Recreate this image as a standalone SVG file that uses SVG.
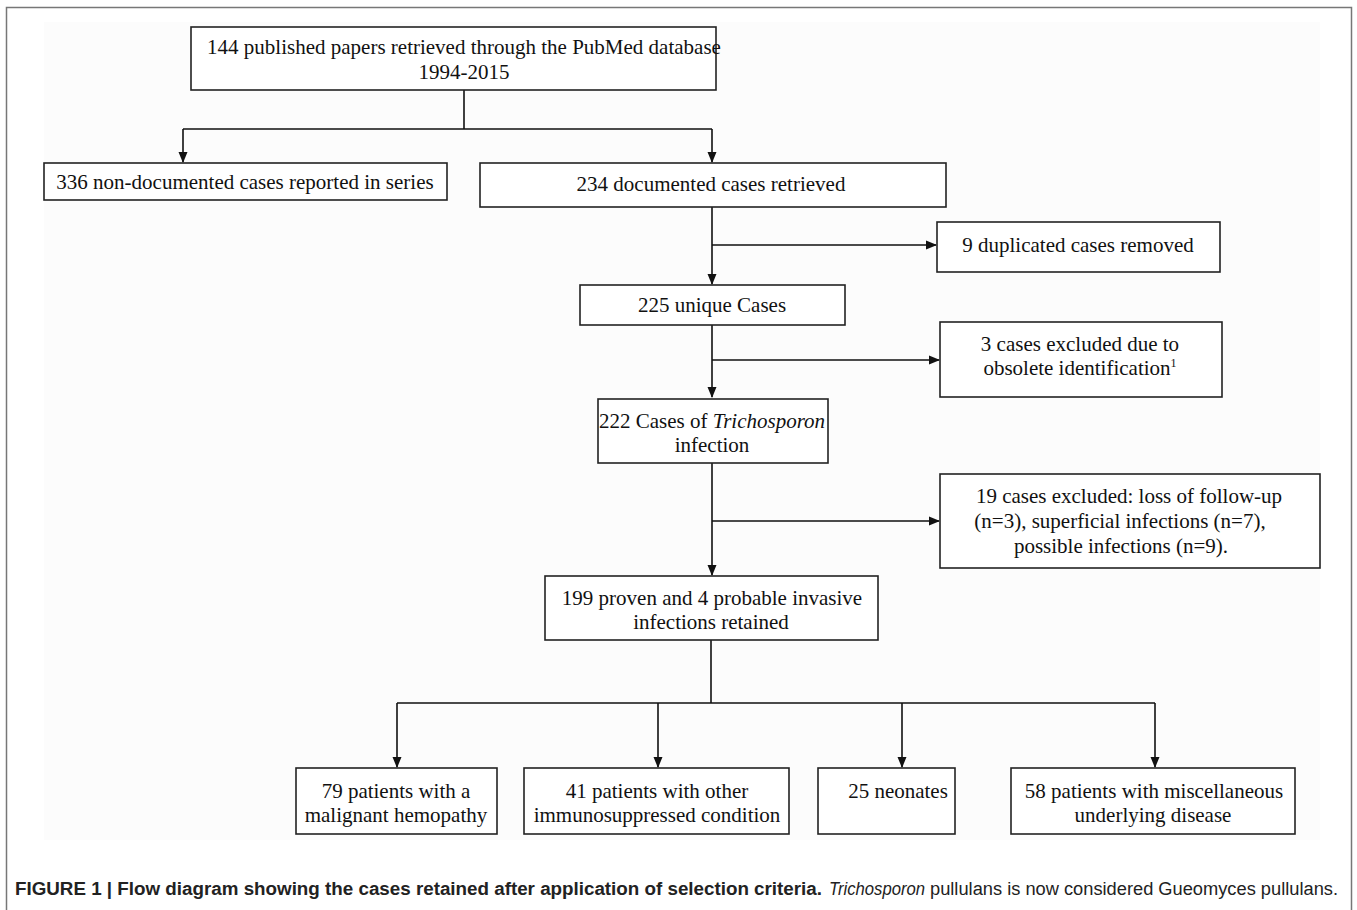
<svg xmlns="http://www.w3.org/2000/svg" width="1357" height="910" viewBox="0 0 1357 910">
<style>
.box{fill:#fff;stroke:#222;stroke-width:1.6}
.t{font-family:"Liberation Serif","Times New Roman",serif;font-size:21px;fill:#111;text-anchor:middle}
.ln{fill:none;stroke:#111;stroke-width:1.6}
.cap{font-family:"Liberation Sans",Arial,sans-serif;font-size:18px;fill:#222}
</style>
<defs>
<marker id="ah" markerWidth="11" markerHeight="11" refX="10" refY="5.5" orient="auto" markerUnits="userSpaceOnUse">
<path d="M0,1 L11,5.5 L0,10 Z" fill="#111"/>
</marker>
</defs>
<rect x="0" y="0" width="1357" height="910" fill="#fff"/>
<path d="M6.5,910 V7.5 H1351.5 V910" fill="none" stroke="#777" stroke-width="1.5"/>
<rect x="44" y="22" width="1276" height="818" fill="#fcfcfc"/>

<g id="connectors">
<path class="ln" d="M464,90 V129"/>
<path class="ln" d="M183,129 H712"/>
<path class="ln" d="M183,129 V162" marker-end="url(#ah)"/>
<path class="ln" d="M712,129 V162" marker-end="url(#ah)"/>
<path class="ln" d="M712,207 V284" marker-end="url(#ah)"/>
<path class="ln" d="M712,245 H936" marker-end="url(#ah)"/>
<path class="ln" d="M712,325 V397" marker-end="url(#ah)"/>
<path class="ln" d="M712,360 H939" marker-end="url(#ah)"/>
<path class="ln" d="M712,463 V575" marker-end="url(#ah)"/>
<path class="ln" d="M712,521 H939" marker-end="url(#ah)"/>
<path class="ln" d="M711,640 V703"/>
<path class="ln" d="M397,703 H1155"/>
<path class="ln" d="M397,703 V767" marker-end="url(#ah)"/>
<path class="ln" d="M658,703 V767" marker-end="url(#ah)"/>
<path class="ln" d="M902,703 V767" marker-end="url(#ah)"/>
<path class="ln" d="M1155,703 V767" marker-end="url(#ah)"/>
</g>

<g id="n1"><rect class="box" x="191" y="27" width="525" height="63"/>
<text class="t" x="464" y="54">144 published papers retrieved through the PubMed database</text>
<text class="t" x="464" y="79">1994-2015</text></g>

<g id="n2"><rect class="box" x="44" y="163" width="403" height="37"/>
<text class="t" x="245" y="189">336 non-documented cases reported in series</text></g>

<g id="n3"><rect class="box" x="480" y="163" width="466" height="44"/>
<text class="t" x="711" y="191">234 documented cases retrieved</text></g>

<g id="n4"><rect class="box" x="937" y="222" width="283" height="50"/>
<text class="t" x="1078" y="252">9 duplicated cases removed</text></g>

<g id="n5"><rect class="box" x="580" y="285" width="265" height="40"/>
<text class="t" x="712" y="312">225 unique Cases</text></g>

<g id="n6"><rect class="box" x="940" y="322" width="282" height="75"/>
<text class="t" x="1080" y="351">3 cases excluded due to</text>
<text class="t" x="1080" y="375">obsolete identification<tspan font-size="12" dy="-8">1</tspan></text></g>

<g id="n7"><rect class="box" x="598" y="399" width="230" height="64"/>
<text class="t" x="712" y="428">222 Cases of <tspan font-style="italic">Trichosporon</tspan></text>
<text class="t" x="712" y="452">infection</text></g>

<g id="n8"><rect class="box" x="940" y="474" width="380" height="94"/>
<text class="t" x="1129" y="503">19 cases excluded: loss of follow-up</text>
<text class="t" x="1120" y="528">(n=3), superficial infections (n=7),</text>
<text class="t" x="1121" y="553">possible infections (n=9).</text></g>

<g id="n9"><rect class="box" x="545" y="576" width="333" height="64"/>
<text class="t" x="712" y="605">199 proven and 4 probable invasive</text>
<text class="t" x="711" y="629">infections retained</text></g>

<g id="n10"><rect class="box" x="296" y="768" width="201" height="66"/>
<text class="t" x="396" y="798">79 patients with a</text>
<text class="t" x="396" y="822">malignant hemopathy</text></g>

<g id="n11"><rect class="box" x="524" y="768" width="265" height="66"/>
<text class="t" x="657" y="798">41 patients with other</text>
<text class="t" x="657" y="822">immunosuppressed condition</text></g>

<g id="n12"><rect class="box" x="818" y="768" width="137" height="66"/>
<text class="t" x="898" y="798">25 neonates</text></g>

<g id="n13"><rect class="box" x="1011" y="768" width="284" height="66"/>
<text class="t" x="1154" y="798">58 patients with miscellaneous</text>
<text class="t" x="1153" y="822">underlying disease</text></g>

<g id="caption">
<text class="cap" x="15" y="895" font-weight="bold" textLength="807" lengthAdjust="spacingAndGlyphs">FIGURE 1 | Flow diagram showing the cases retained after application of selection criteria.</text>
<text class="cap" x="829" y="895" font-style="italic" textLength="96" lengthAdjust="spacingAndGlyphs">Trichosporon</text>
<text class="cap" x="930" y="895" textLength="408" lengthAdjust="spacingAndGlyphs">pullulans is now considered Gueomyces pullulans.</text>
</g>
</svg>
